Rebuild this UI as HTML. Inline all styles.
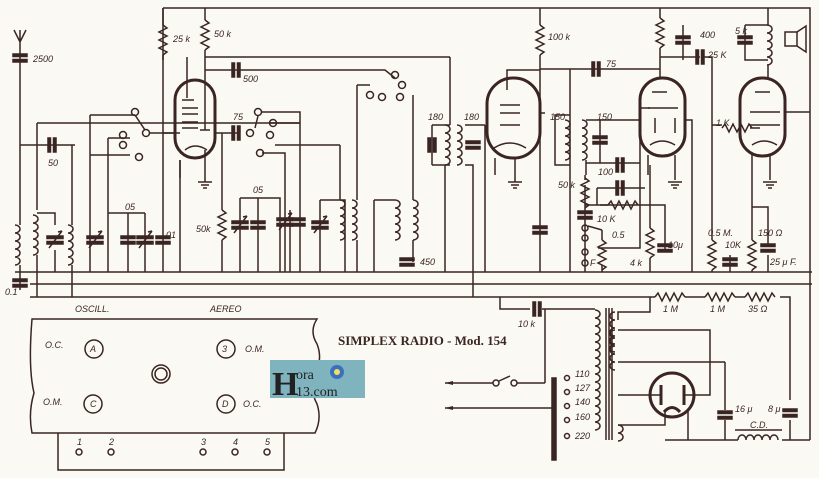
<!DOCTYPE html>
<html><head><meta charset="utf-8"><style>
html,body{margin:0;padding:0;background:#fbf9f3;}
svg{display:block}
text{font-family:"Liberation Sans",sans-serif;font-style:italic;font-size:9px;fill:#3a2522}
</style></head><body>
<svg width="819" height="478" viewBox="0 0 819 478" xmlns="http://www.w3.org/2000/svg">
<defs>
<path id="coil" d="M0,0 a5,4 0 1 1 0,8 a5,4 0 1 1 0,8 a5,4 0 1 1 0,8 a5,4 0 1 1 0,8 a5,4 0 1 1 0,8" fill="none"/>
<path id="res" d="M0,0 l4,3 l-8,4 l8,4 l-8,4 l8,4 l-8,4 l8,4 l-4,3" fill="none"/>
<path id="resh" d="M0,0 l3,-4 l4,8 l4,-8 l4,8 l4,-8 l4,8 l4,-8 l3,4" fill="none"/>
<g id="cap"><rect x="-7" y="-4" width="14" height="2.5"/><rect x="-7" y="1.5" width="14" height="2.5"/></g>
<g id="caph"><rect x="-4" y="-7" width="2.5" height="14"/><rect x="1.5" y="-7" width="2.5" height="14"/></g>
<g id="vcap"><rect x="-8" y="-4" width="16" height="2.5"/><rect x="-8" y="1.5" width="16" height="2.5"/><path d="M-6,8 L7,-9 M7,-9 l-4,1" fill="none"/></g>
<g id="gnd"><path d="M-7,0 h14 M-4,3 h8 M-2,6 h4" fill="none"/></g>
</defs>
<g stroke="#3a2522" stroke-width="1.5" fill="none">
<path d="M15,272 H812 M30,284 H812 M30,297 H650 M163,8 H810 V440 M205,57 H450"/>
<path d="M14,30 L20,42 L26,30 M20,30 V42 M20,42 V215"/>
<use href="#cap" x="20" y="58" fill="#3a2522"/>
<use href="#coil" x="15" y="225"/><path d="M20,215 V225 M20,265 V272 V290"/>
<use href="#cap" x="20" y="283" fill="#3a2522"/>
<path d="M20,145 H75 M37,123 H300 M37,123 V210 M72,145 V225"/>
<use href="#caph" x="52" y="145" fill="#3a2522"/>
<use href="#coil" x="33" y="215"/><use href="#coil" x="68" y="225"/>
<path d="M37,213 H55 V225 M55,250 V272 M37,255 V297 M72,265 V297"/>
<use href="#vcap" x="55" y="240" fill="#3a2522"/>
<path d="M90,115 V272 M108,138 V272 M128,213 V272 M145,213 V272 M108,213 H145"/>
<use href="#vcap" x="95" y="240" fill="#3a2522"/><use href="#cap" x="128" y="240" fill="#3a2522"/><use href="#vcap" x="145" y="240" fill="#3a2522"/><use href="#cap" x="163" y="240" fill="#3a2522"/>
<path d="M90,115 H135 M108,138 H130 M90,155 H130 M163,8 V272"/>
<circle cx="135" cy="112" r="3.5"/><circle cx="123" cy="135" r="3.5"/><circle cx="123" cy="145" r="3.5"/><circle cx="139" cy="157" r="3.5"/><circle cx="146" cy="133" r="3.5"/>
<path d="M135,115 L145,130 M150,133 H175"/>
<path d="M163,8 V25 M163,55 V60 M205,8 V20 M205,50 V70"/>
<use href="#res" x="163" y="25"/><use href="#res" x="205" y="20"/>
<path d="M205,70 H385 L395,78 M187,57 V98 M205,70 V130"/>
<use href="#caph" x="236" y="70" fill="#3a2522"/>
<rect x="175" y="80" width="40" height="78" rx="20" stroke-width="3"/>
<path d="M182,100 h12 M182,108 h16 M182,114 h16 M182,122 h16 M182,128 h16 M200,130 h10 M185,150 q10,-8 22,0 M180,133 H163 M180,160 V178 M205,150 V182"/>
<use href="#gnd" x="205" y="182"/>
<path d="M215,133 H240 M180,160 V272 M222,133 V210 M222,240 V272"/>
<use href="#caph" x="236" y="133" fill="#3a2522"/><use href="#res" x="222" y="210"/>
<circle cx="250" cy="133" r="3.5"/><circle cx="258" cy="112" r="3.5"/><circle cx="273" cy="123" r="3.5"/><circle cx="270" cy="135" r="3.5"/><circle cx="260" cy="153" r="3.5"/>
<path d="M262,112 H300 V272 M255,128 L258,116 M275,145 H340 M262,153 H285 V272 M270,123 H300"/>
<path d="M240,198 H280 V272 M240,198 V272 M258,198 V272 M290,210 V272 M320,200 H345 V272 M320,200 V272"/>
<use href="#vcap" x="240" y="225" fill="#3a2522"/><use href="#cap" x="258" y="225" fill="#3a2522"/><use href="#vcap" x="285" y="222" fill="#3a2522"/><use href="#cap" x="298" y="222" fill="#3a2522"/><use href="#vcap" x="320" y="225" fill="#3a2522"/>
<use href="#coil" x="340" y="200"/><use href="#coil" x="352" y="200"/><use href="#coil" x="395" y="200"/><use href="#coil" x="413" y="200"/>
<path d="M340,145 V200 M357,123 V200 M357,240 V272 M374,200 H395 M374,200 V272 M413,95 V200 M357,85 V123 M357,85 H370 M413,240 V262"/>
<circle cx="370" cy="95" r="3.5"/><circle cx="382" cy="97" r="3.5"/><circle cx="395" cy="75" r="3.5"/><circle cx="402" cy="85" r="3.5"/><circle cx="400" cy="97" r="3.5"/>
<use href="#cap" x="407" y="262" fill="#3a2522"/>
<path d="M450,57 V125 M432,125 H450 M432,125 V165 M432,165 H450 M465,125 H485 M465,165 H473 V297"/>
<use href="#coil" x="445" y="125"/><use href="#coil" x="457" y="125"/><use href="#caph" x="432" y="145" fill="#3a2522"/><use href="#cap" x="473" y="145" fill="#3a2522"/>
<path d="M445,165 V272 M485,125 V272"/>
<rect x="487" y="78" width="53" height="80" rx="26" stroke-width="3"/>
<path d="M507,90 V70 H540 M500,105 h20 M500,113 h20 M500,125 h20 M494,148 q16,-10 32,0 M540,113 H545 M495,158 V175 M515,158 V182"/>
<use href="#gnd" x="515" y="182"/>
<path d="M540,8 V25 M540,55 V272"/><use href="#res" x="540" y="25"/>
<use href="#cap" x="540" y="230" fill="#3a2522"/>
<path d="M540,69 H660 M570,69 V272 M555,115 H570 V165 H555 Z"/>
<use href="#caph" x="596" y="69" fill="#3a2522"/>
<use href="#coil" x="565" y="120"/><use href="#coil" x="582" y="120"/>
<path d="M586,120 H640 M586,160 V175 M586,163 H640 M600,120 V163 M585,175 V180 M585,205 V272 M585,205 H635 M585,185 V240"/>
<use href="#cap" x="600" y="140" fill="#3a2522"/><use href="#res" x="585" y="178"/>
<use href="#caph" x="620" y="165" fill="#3a2522"/><use href="#caph" x="620" y="188" fill="#3a2522"/>
<path d="M597,188 H645 M597,188 V205 M600,205 h8"/><use href="#resh" x="608" y="205"/><path d="M635,205 H665 V252"/>
<use href="#cap" x="585" y="215" fill="#3a2522"/>
<circle cx="585" cy="228" r="3"/><circle cx="585" cy="238" r="3"/><circle cx="585" cy="252" r="3"/><circle cx="585" cy="263" r="3"/>
<path d="M588,226 L602,230 M602,230 V240 M602,265 V272 M598,248 H640 V108 H650"/><use href="#res" x="602" y="240"/>
<path d="M650,165 V228 M650,258 V272"/><use href="#res" x="650" y="228"/><use href="#cap" x="665" y="248" fill="#3a2522"/>
<rect x="640" y="78" width="45" height="78" rx="22" stroke-width="3"/>
<path d="M652,92 h15 M648,108 h30 M655,118 v15 M675,118 v15 M650,145 q12,-8 25,0 M648,155 V175 M675,155 V180 M685,120 H692 V272"/>
<use href="#gnd" x="675" y="182"/>
<path d="M660,8 V18 M660,48 V78 M660,57 H700 M683,25 V60"/><use href="#res" x="660" y="18"/>
<use href="#cap" x="683" y="40" fill="#3a2522"/><use href="#caph" x="700" y="57" fill="#3a2522"/>
<path d="M704,57 H712 V240 M712,270 V272 M712,125 H722"/><use href="#res" x="712" y="240"/><use href="#resh" x="722" y="128"/>
<path d="M750,128 H760 M730,255 V272"/><use href="#cap" x="730" y="262" fill="#3a2522"/>
<path d="M768,8 V25"/><use href="#coil" x="767" y="25"/>
<path d="M745,25 H768 M745,25 V60 H768 M768,65 V78"/><use href="#cap" x="745" y="40" fill="#3a2522"/>
<rect x="785" y="32" width="12" height="14"/><path d="M797,32 L806,26 V52 L797,46"/>
<rect x="740" y="78" width="45" height="78" rx="22" stroke-width="3"/>
<path d="M755,92 h15 M750,112 h30 M750,125 h30 M752,145 q12,-8 25,0 M785,112 H810 M752,155 V175 M770,155 V180 M752,155 V207 H768 V245 M752,207 V240 M752,270 V272 M768,255 V272"/>
<use href="#gnd" x="770" y="182"/><use href="#res" x="752" y="240"/><use href="#cap" x="768" y="248" fill="#3a2522"/>
<path d="M650,297 H655"/><use href="#resh" x="655" y="297"/><path d="M685,297 H705"/><use href="#resh" x="705" y="297"/><path d="M735,297 H745"/><use href="#resh" x="745" y="297"/><path d="M780,297 H790 V400"/>
<path d="M500,297 V309 H530 M542,309 H595 M545,309 V383"/><use href="#caph" x="537" y="309" fill="#3a2522"/>
<path d="M445,383 H493 M499,381 L510,376 M517,383 H545 M445,408 H555"/><circle cx="496" cy="383" r="3"/><circle cx="514" cy="383" r="3"/>
<rect x="552" y="378" width="4" height="82" fill="#3a2522"/>
<use href="#coil" x="595" y="310"/><use href="#coil" x="595" y="350"/><use href="#coil" x="595" y="390"/>
<path d="M606,308 V440 M609,308 V440 M612,308 V440"/>
<circle cx="567" cy="378" r="2.5"/><circle cx="567" cy="392" r="2.5"/><circle cx="567" cy="406" r="2.5"/><circle cx="567" cy="420" r="2.5"/><circle cx="567" cy="436" r="2.5"/>
<use href="#coil" x="615" y="312" transform="translate(1230,0) scale(-1,1)"/>
<path d="M618,320 V312 H650 V297 M618,330 H710 V362 M618,362 H725 M618,395 H660 M684,395 H710 V362 M618,425 H665 V410 M688,410 V440 M665,440 H725 M725,362 V410 M725,420 V440 H738 M782,440 H810"/>
<use href="#coil" x="615" y="330" transform="translate(1230,0) scale(-1,1)"/>
<path d="M618,425 a5,4 0 1 1 0,8 a5,4 0 1 1 0,8"/>
<circle cx="672" cy="395" r="22" stroke-width="3"/>
<path d="M661,385 V405 M684,385 V405 M664,412 q8,-9 16,0" stroke-width="3"/>
<use href="#cap" x="725" y="415" fill="#3a2522"/><use href="#cap" x="790" y="413" fill="#3a2522"/><path d="M790,420 V440"/>
<path d="M738,440 a4,5 0 1 1 8,0 a4,5 0 1 1 8,0 a4,5 0 1 1 8,0 a4,5 0 1 1 8,0 a4,5 0 1 1 8,0 M735,430 H782"/>
<path d="M32,319 H317 q-8,12 0,25 q6,15 -2,30 q-6,15 2,30 q5,15 -2,29 H32 q-4,-20 2,-40 q-6,-25 -2,-74 Z"/>
<path d="M58,433 V470 H284 V433"/>
<circle cx="94" cy="349" r="9"/><circle cx="93" cy="404" r="9"/><circle cx="226" cy="349" r="9"/><circle cx="226" cy="404" r="9"/>
<circle cx="161" cy="374" r="9"/><circle cx="161" cy="374" r="6"/>
<circle cx="79" cy="452" r="3"/><circle cx="111" cy="452" r="3"/><circle cx="203" cy="452" r="3"/><circle cx="235" cy="452" r="3"/><circle cx="267" cy="452" r="3"/>
</g>
<path d="M445,383 l8,-2 v4 Z M445,408 l8,-2 v4Z" fill="#3a2522"/>
<rect x="270" y="360" width="95" height="38" fill="#7fb4be"/>
<text x="272" y="395" style="font-family:'Liberation Serif',serif;font-style:normal;font-size:34px;font-weight:bold;fill:#222">H</text>
<text x="296" y="379" style="font-family:'Liberation Serif',serif;font-style:normal;font-size:14px;fill:#222">ora</text>
<text x="296" y="396" style="font-family:'Liberation Serif',serif;font-style:normal;font-size:14px;fill:#222">13.com</text>
<circle cx="337" cy="372" r="7" fill="#3a70c0"/><circle cx="337" cy="372" r="3" fill="#f0e060"/>
<text x="338" y="345" style="font-family:'Liberation Serif',serif;font-style:normal;font-weight:bold;font-size:13px">SIMPLEX RADIO - Mod. 154</text>
<text x="33" y="62">2500</text><text x="48" y="166">50</text><text x="5" y="295">0.1</text>
<text x="173" y="42">25 k</text><text x="214" y="37">50 k</text><text x="243" y="82">500</text>
<text x="125" y="210">05</text><text x="166" y="238">01</text><text x="196" y="232">50k</text>
<text x="233" y="120">75</text><text x="253" y="193">05</text><text x="420" y="265">450</text>
<text x="428" y="120">180</text><text x="464" y="120">180</text><text x="548" y="40">100 k</text>
<text x="606" y="67">75</text><text x="550" y="120">150</text><text x="597" y="120">150</text>
<text x="598" y="175">100</text><text x="558" y="188">50 k</text><text x="597" y="222">10 K</text>
<text x="612" y="238">0.5</text><text x="590" y="266">F</text><text x="630" y="266">4 k</text><text x="668" y="248">10μ</text>
<text x="700" y="38">400</text><text x="708" y="58">25 K</text><text x="735" y="34">5 k</text>
<text x="716" y="126">1 K</text><text x="708" y="236">0.5 M.</text><text x="725" y="248">10K</text>
<text x="758" y="236">150 Ω</text><text x="770" y="265">25 μ F.</text>
<text x="663" y="312">1 M</text><text x="710" y="312">1 M</text><text x="748" y="312">35 Ω</text><text x="518" y="327">10 k</text>
<text x="575" y="377">110</text><text x="575" y="391">127</text><text x="575" y="405">140</text><text x="575" y="420">160</text><text x="575" y="439">220</text>
<text x="735" y="412">16 μ</text><text x="768" y="412">8 μ</text><text x="750" y="428">C.D.</text>
<text x="75" y="312">OSCILL.</text><text x="210" y="312">AEREO</text>
<text x="45" y="348">O.C.</text><text x="90" y="352">A</text><text x="245" y="352">O.M.</text><text x="222" y="352">3</text>
<text x="43" y="405">O.M.</text><text x="90" y="407">C</text><text x="243" y="407">O.C.</text><text x="222" y="407">D</text>
<text x="77" y="445">1</text><text x="109" y="445">2</text><text x="201" y="445">3</text><text x="233" y="445">4</text><text x="265" y="445">5</text>
</svg>
</body></html>
